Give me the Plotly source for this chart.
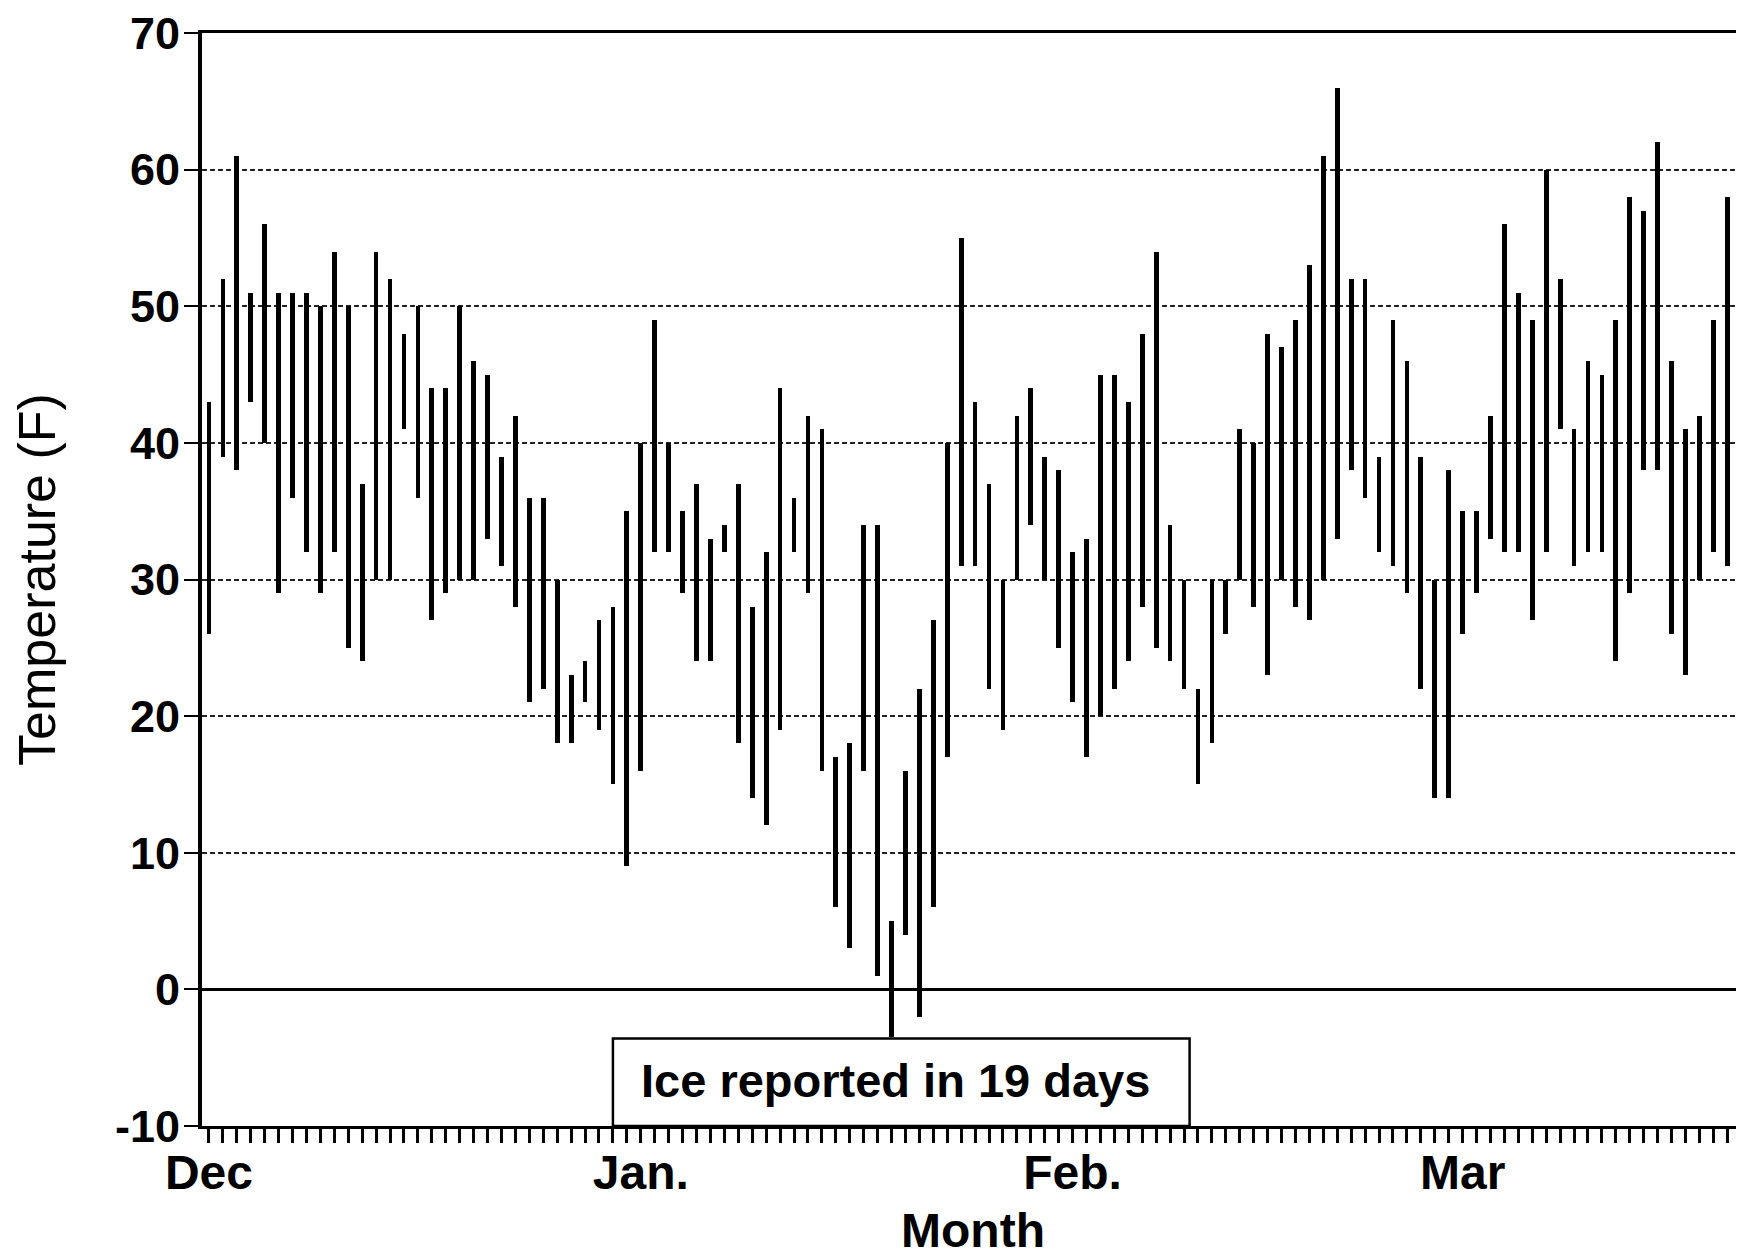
import plotly.graph_objects as go

# Daily temperature range (F), Dec 1 .. Mar 21
highs = [43, 52, 61, 51, 56, 51, 51, 51, 50, 54, 50, 37, 54, 52, 48, 50, 44, 44,
         50, 46, 45, 39, 42, 36, 36, 30, 23, 24, 27, 28, 35, 40, 49, 40, 35, 37, 33,
         34, 37, 28, 32, 44, 36, 42, 41, 17, 18, 34, 34, 5, 16, 22, 27, 40, 55, 43,
         37, 30, 42, 44, 39, 38, 32, 33, 45, 45, 43, 48, 54, 34, 30, 22, 30, 30, 41,
         40, 48, 47, 49, 53, 61, 66, 52, 52, 39, 49, 46, 39, 30, 38, 35, 35, 42,
         56, 51, 49, 60, 52, 41, 46, 45, 49, 58, 57, 62, 46, 41, 42, 49, 58, 47]
lows = [26, 39, 38, 43, 40, 29, 36, 32, 29, 32, 25, 24, 30, 30, 41, 36, 27, 29,
        30, 30, 33, 31, 28, 21, 22, 18, 18, 21, 19, 15, 9, 16, 32, 32, 29, 24, 24,
        32, 18, 14, 12, 19, 32, 29, 16, 6, 3, 16, 1, -3.5, 4, -2, 6, 17, 31, 31,
        22, 19, 30, 34, 30, 25, 21, 17, 20, 22, 24, 28, 25, 24, 22, 15, 18, 26, 30,
        28, 23, 30, 28, 27, 30, 33, 38, 36, 32, 31, 29, 22, 14, 14, 26, 29, 33,
        32, 32, 27, 32, 41, 31, 32, 32, 24, 29, 38, 38, 26, 23, 30, 32, 31, 31]
days = list(range(1, len(highs) + 1))

month_labels = ["Dec", "Jan.", "Feb.", "Mar"]
month_start_days = [1, 32, 63, 91]
y_ticks = [-10, 0, 10, 20, 30, 40, 50, 60, 70]
y_tick_labels = ["-10", "0", "10", "20", "30", "40", "50", "60", "70"]

note_text = "Ice reported in 19 days"

spans = [h - l for h, l in zip(highs, lows)]

fig = go.Figure()
fig.add_trace(go.Bar(
    x=days, y=spans, base=lows, width=0.34,
    marker=dict(color="black", line=dict(width=0)),
    showlegend=False, hoverinfo="skip",
))

FONT = "Arial, Liberation Sans, Helvetica, sans-serif"

fig.add_shape(type="rect", xref="x", yref="y", x0=30, x1=71.4, y0=-10, y1=-3.6,
              line=dict(color="black", width=2.5), fillcolor="white", layer="above")
fig.add_annotation(x=50.3, y=-6.7, xref="x", yref="y", text=note_text, showarrow=False,
                   font=dict(family=FONT, size=47, color="black", weight="bold"))

# page body has an 8px margin, so the figure is offset by 8px
fig.update_layout(
    width=1736, height=1252,
    margin=dict(l=194, r=0, t=25, b=134),
    paper_bgcolor="white", plot_bgcolor="white",
    font=dict(family=FONT, color="black"),
    bargap=0,
    xaxis=dict(
        range=[0.5, 111.2],
        tickmode="array", tickvals=month_start_days, ticktext=month_labels,
        ticks="outside", ticklen=14, tickwidth=3, tickcolor="black",
        ticklabelstandoff=-12,
        minor=dict(tickmode="linear", tick0=1, dtick=1, ticks="outside",
                   ticklen=14, tickwidth=3, tickcolor="black"),
        tickfont=dict(size=48, weight="bold"),
        showline=True, linecolor="black", linewidth=3, mirror=True,
        showgrid=False, zeroline=False,
        title=dict(text="Month", font=dict(size=48, weight="bold"), standoff=16),
    ),
    yaxis=dict(
        range=[-10, 70],
        tickmode="array", tickvals=y_ticks, ticktext=y_tick_labels,
        ticks="outside", ticklen=14, tickwidth=2, tickcolor="black",
        ticklabelstandoff=-5, ticklabeloverflow="allow",
        tickfont=dict(size=45, weight="bold"),
        showline=True, linecolor="black", linewidth=4,
        showgrid=True, gridcolor="#222", gridwidth=1.8, griddash="5px,3px",
        zeroline=True, zerolinecolor="black", zerolinewidth=2.5,
        title=dict(text="Temperature (F)", font=dict(size=52), standoff=46),
    ),
)

fig.write_html("out.html")
